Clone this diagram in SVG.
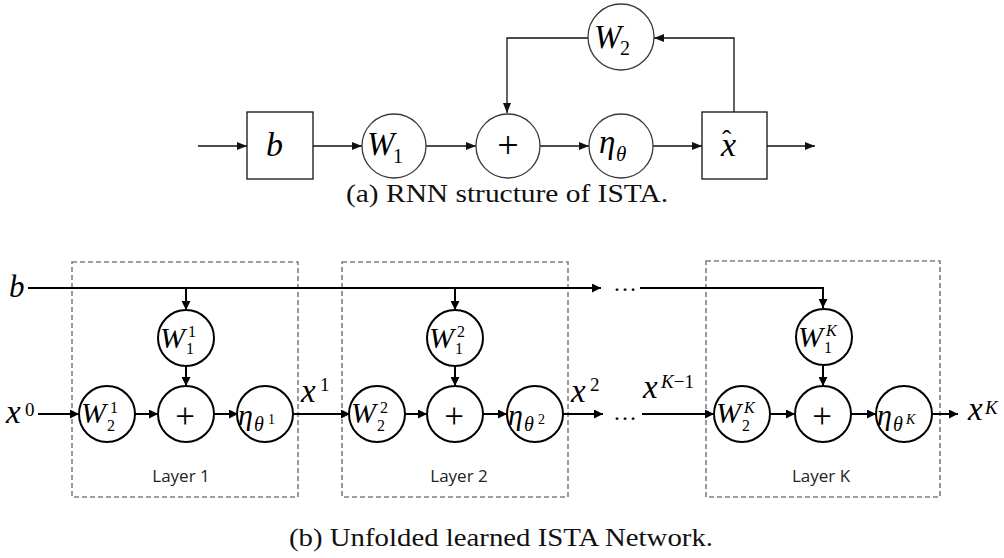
<svg xmlns="http://www.w3.org/2000/svg" width="1004" height="558" viewBox="0 0 1004 558">
<style>
.bg{fill:#fff}
.tn{fill:#fff;stroke:#3a3a3a;stroke-width:1.3}
.tb{fill:#fff;stroke:#111;stroke-width:1.3}
.bn{fill:#fff;stroke:#000;stroke-width:2}
.tl{fill:none;stroke:#111;stroke-width:1.3}
.bl{fill:none;stroke:#000;stroke-width:2}
.dash{fill:none;stroke:#808080;stroke-width:1.6;stroke-dasharray:5,3}
.m{font-family:"Liberation Serif",serif;font-style:italic;fill:#000}
.u{font-family:"Liberation Serif",serif;fill:#000}
.cap{font-family:"Liberation Serif",serif;font-size:26px;fill:#111}
.lay{font-family:"Open Sans","Liberation Sans",sans-serif;font-size:17px;fill:#222;text-anchor:middle}
</style>
<defs>
<marker id="ta" markerWidth="10" markerHeight="8" refX="10" refY="4" orient="auto" markerUnits="userSpaceOnUse"><path d="M0,0 L10,4 L0,8 z" fill="#111"/></marker>
<marker id="ba" markerWidth="9" markerHeight="9" refX="9" refY="4.5" orient="auto" markerUnits="userSpaceOnUse"><path d="M0,0 L9,4.5 L0,9 z" fill="#000"/></marker>
</defs>
<rect class="bg" x="0" y="0" width="1004" height="558"/>

<!-- (a) top figure -->
<g id="connectors-a">
<line class="tl" x1="198" y1="146" x2="247" y2="146" marker-end="url(#ta)"/>
<line class="tl" x1="313" y1="146" x2="362" y2="146" marker-end="url(#ta)"/>
<line class="tl" x1="426" y1="146" x2="476" y2="146" marker-end="url(#ta)"/>
<line class="tl" x1="540" y1="146" x2="589" y2="146" marker-end="url(#ta)"/>
<line class="tl" x1="653" y1="146" x2="702" y2="146" marker-end="url(#ta)"/>
<line class="tl" x1="767" y1="146" x2="815" y2="146" marker-end="url(#ta)"/>
<path class="tl" d="M734,112 V38 H654" marker-end="url(#ta)"/>
<path class="tl" d="M589,38 H507 V113" marker-end="url(#ta)"/>
</g>
<g id="a-b"><rect class="tb" x="247" y="112" width="66" height="67"/><text class="m" x="266" y="156" font-size="34">b</text></g>
<g id="a-W1"><circle class="tn" cx="394" cy="146" r="32"/><text class="m" x="367" y="155" font-size="33">W</text><text class="u" x="393" y="163" font-size="20">1</text></g>
<g id="a-plus"><circle class="tn" cx="508" cy="146" r="32"/><text class="u" x="508" y="158" font-size="38" text-anchor="middle">+</text></g>
<g id="a-eta"><circle class="tn" cx="621" cy="146" r="32"/><text class="m" x="599" y="153" font-size="33">η</text><text class="m" x="616" y="161" font-size="21">θ</text></g>
<g id="a-xhat"><rect class="tb" x="702" y="112" width="65" height="67"/><text class="m" x="721" y="156" font-size="34">x<tspan class="u" dx="-14" dy="-7" font-size="28" font-style="normal">ˆ</tspan></text></g>
<g id="a-W2"><circle class="tn" cx="621" cy="37" r="33"/><text class="m" x="594" y="48" font-size="33">W</text><text class="u" x="620" y="55" font-size="20">2</text></g>
<text class="cap" x="507" y="202" text-anchor="middle" textLength="322" lengthAdjust="spacingAndGlyphs">(a) RNN structure of ISTA.</text>

<!-- (b) bottom figure -->
<g id="layer-boxes">
<rect class="dash" x="72" y="262" width="226" height="235"/>
<rect class="dash" x="342" y="262" width="226" height="235"/>
<rect class="dash" x="706" y="261" width="234" height="236"/>
<text class="lay" x="181" y="482">Layer 1</text>
<text class="lay" x="459" y="482">Layer 2</text>
<text class="lay" x="821" y="482">Layer K</text>
</g>

<g id="connectors-b">
<line class="bl" x1="28" y1="288" x2="601" y2="288" marker-end="url(#ba)"/>
<path class="bl" d="M640,288 H823 V308" marker-end="url(#ba)"/>
<line class="bl" x1="186" y1="288" x2="186" y2="310" marker-end="url(#ba)"/>
<line class="bl" x1="455" y1="288" x2="455" y2="310" marker-end="url(#ba)"/>
<line class="bl" x1="186" y1="366" x2="186" y2="386" marker-end="url(#ba)"/>
<line class="bl" x1="455" y1="366" x2="455" y2="386" marker-end="url(#ba)"/>
<line class="bl" x1="823" y1="366" x2="823" y2="386" marker-end="url(#ba)"/>
<line class="bl" x1="38" y1="414" x2="79" y2="414" marker-end="url(#ba)"/>
<line class="bl" x1="135" y1="414" x2="158" y2="414" marker-end="url(#ba)"/>
<line class="bl" x1="214" y1="414" x2="238" y2="414" marker-end="url(#ba)"/>
<line class="bl" x1="293" y1="414" x2="350" y2="414" marker-end="url(#ba)"/>
<line class="bl" x1="405" y1="414" x2="427" y2="414" marker-end="url(#ba)"/>
<line class="bl" x1="483" y1="414" x2="507" y2="414" marker-end="url(#ba)"/>
<line class="bl" x1="562" y1="414" x2="603" y2="414" marker-end="url(#ba)"/>
<line class="bl" x1="642" y1="414" x2="714" y2="414" marker-end="url(#ba)"/>
<line class="bl" x1="770" y1="414" x2="795" y2="414" marker-end="url(#ba)"/>
<line class="bl" x1="851" y1="414" x2="876" y2="414" marker-end="url(#ba)"/>
<line class="bl" x1="932" y1="414" x2="958" y2="414" marker-end="url(#ba)"/>
<text class="u" x="625" y="291" font-size="24" text-anchor="middle">…</text>
<text class="u" x="625" y="420" font-size="24" text-anchor="middle">…</text>
</g>

<g id="b-label-b"><text class="m" x="9" y="297" font-size="31">b</text></g>
<g id="b-x0"><text class="m" x="6" y="423" font-size="33">x</text><text class="u" x="25" y="416" font-size="19">0</text></g>
<g id="b-x1"><text class="m" x="301" y="402" font-size="33">x</text><text class="u" x="320" y="391" font-size="19">1</text></g>
<g id="b-x2"><text class="m" x="571" y="402" font-size="33">x</text><text class="u" x="590" y="391" font-size="19">2</text></g>
<g id="b-xK1"><text class="m" x="643" y="398" font-size="33">x</text><text x="661" y="388" font-size="19"><tspan class="m">K</tspan><tspan class="u">−1</tspan></text></g>
<g id="b-xK"><text class="m" x="968" y="420" font-size="33">x</text><text class="m" x="985" y="414" font-size="19">K</text></g>

<g id="L1-W1"><circle class="bn" cx="186" cy="338" r="28"/><text class="m" x="160" y="348" font-size="30">W</text><text class="u" x="188" y="337" font-size="16">1</text><text class="u" x="186" y="354" font-size="16">1</text></g>
<g id="L1-W2"><circle class="bn" cx="107" cy="414" r="28"/><text class="m" x="81" y="423" font-size="30">W</text><text class="u" x="110" y="413" font-size="16">1</text><text class="u" x="107" y="431" font-size="16">2</text></g>
<g id="L1-plus"><circle class="bn" cx="186" cy="414" r="28"/><text class="u" x="185" y="428" font-size="35" text-anchor="middle">+</text></g>
<g id="L1-eta"><circle class="bn" cx="265" cy="414" r="28"/><text class="m" x="238" y="425" font-size="30">η</text><text class="m" x="254" y="431" font-size="20">θ</text><text class="u" x="268" y="424" font-size="14">1</text></g>

<g id="L2-W1"><circle class="bn" cx="455" cy="338" r="28"/><text class="m" x="429" y="348" font-size="30">W</text><text class="u" x="457" y="337" font-size="16">2</text><text class="u" x="455" y="354" font-size="16">1</text></g>
<g id="L2-W2"><circle class="bn" cx="377" cy="414" r="28"/><text class="m" x="351" y="423" font-size="30">W</text><text class="u" x="380" y="413" font-size="16">2</text><text class="u" x="377" y="431" font-size="16">2</text></g>
<g id="L2-plus"><circle class="bn" cx="455" cy="414" r="28"/><text class="u" x="454" y="428" font-size="35" text-anchor="middle">+</text></g>
<g id="L2-eta"><circle class="bn" cx="535" cy="414" r="28"/><text class="m" x="508" y="425" font-size="30">η</text><text class="m" x="524" y="431" font-size="20">θ</text><text class="u" x="538" y="424" font-size="14">2</text></g>

<g id="LK-W1"><circle class="bn" cx="824" cy="337" r="28"/><text class="m" x="798" y="347" font-size="30">W</text><text class="m" x="826" y="336" font-size="16">K</text><text class="u" x="824" y="353" font-size="16">1</text></g>
<g id="LK-W2"><circle class="bn" cx="742" cy="414" r="28"/><text class="m" x="716" y="423" font-size="30">W</text><text class="m" x="744" y="413" font-size="16">K</text><text class="u" x="742" y="431" font-size="16">2</text></g>
<g id="LK-plus"><circle class="bn" cx="823" cy="414" r="28"/><text class="u" x="822" y="428" font-size="35" text-anchor="middle">+</text></g>
<g id="LK-eta"><circle class="bn" cx="904" cy="414" r="28"/><text class="m" x="877" y="425" font-size="30">η</text><text class="m" x="893" y="431" font-size="20">θ</text><text class="m" x="906" y="424" font-size="14">K</text></g>

<text class="cap" x="501" y="546" text-anchor="middle" textLength="424" lengthAdjust="spacingAndGlyphs">(b) Unfolded learned ISTA Network.</text>
</svg>
